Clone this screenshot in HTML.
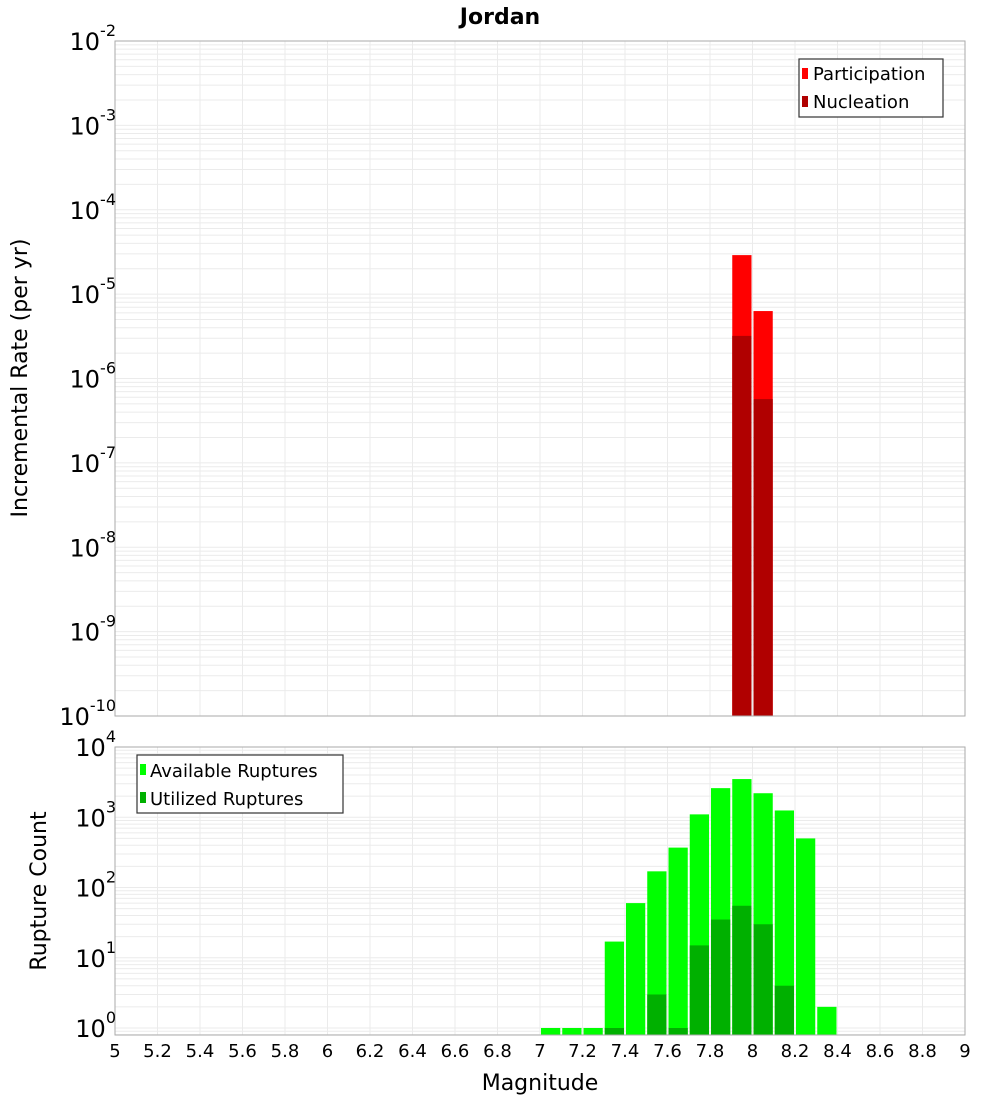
<!DOCTYPE html>
<html><head><meta charset="utf-8"><style>
html,body{margin:0;padding:0;background:#fff;}
svg{display:block;font-family:"DejaVu Sans","Liberation Sans",sans-serif;}
</style></head><body>
<svg id="chart" width="1000" height="1100" xmlns="http://www.w3.org/2000/svg">
<text x="500" y="24" text-anchor="middle" font-size="22" font-weight="bold" fill="#000">Jordan</text>
<g id="topPanel"></g><g id="botPanel"></g><g id="xax"></g>
<text transform="translate(27,378) rotate(-90)" text-anchor="middle" font-size="22" fill="#000">Incremental Rate (per yr)</text>
<text transform="translate(46,891) rotate(-90)" text-anchor="middle" font-size="22" fill="#000">Rupture Count</text>
<text x="540" y="1090" text-anchor="middle" font-size="22" fill="#000">Magnitude</text>
<g>
<rect x="799" y="59" width="144" height="58" fill="#fff" stroke="#333" stroke-width="1.2"/>
<rect x="802" y="68" width="6" height="11" fill="#ff0000"/>
<text x="813" y="80" font-size="18">Participation</text>
<rect x="802" y="96" width="6" height="11" fill="#b00000"/>
<text x="813" y="108" font-size="18">Nucleation</text>
</g>
<g>
<rect x="137" y="755" width="206" height="58" fill="#fff" stroke="#333" stroke-width="1.2"/>
<rect x="140" y="764" width="6" height="11" fill="#00ff00"/>
<text x="150" y="777" font-size="18">Available Ruptures</text>
<rect x="140" y="792" width="6" height="11" fill="#00b000"/>
<text x="150" y="805" font-size="18">Utilized Ruptures</text>
</g>
</svg>
<script>
const topMags = [7.9, 8.0];
const participation = [2.9e-5, 6.3e-6];
const nucleation = [3.2e-6, 5.7e-7];
const botMags = [7.0, 7.1, 7.2, 7.3, 7.4, 7.5, 7.6, 7.7, 7.8, 7.9, 8.0, 8.1, 8.2, 8.3];
const available = [1, 1, 1, 17, 60, 170, 370, 1100, 2600, 3500, 2200, 1250, 500, 2];
const utilized = [0, 0, 0, 1, 0, 3, 1, 15, 35, 55, 30, 4, 0, 0];
const xTicks = ["5","5.2","5.4","5.6","5.8","6","6.2","6.4","6.6","6.8","7","7.2","7.4","7.6","7.8","8","8.2","8.4","8.6","8.8","9"];
const topExps = [-2,-3,-4,-5,-6,-7,-8,-9,-10];
const botExps = [4,3,2,1,0];

const NS = "http://www.w3.org/2000/svg";
const X0 = 115, X1 = 965;
function xs(m){ return X0 + (m - 5) / 4 * (X1 - X0); }
function yTop(v){ return 41 + (-2 - Math.log10(v)) * 84.375; }
function yBot(v){ return 1028 - Math.log10(v) * 70.24; }
function mk(parent, tag, attrs){ const e = document.createElementNS(NS, tag); for (const k in attrs) e.setAttribute(k, attrs[k]); parent.appendChild(e); return e; }

function panel(g, yA, yB, yf, lo, hi, name){
  mk(g, "rect", {x:X0, y:yA, width:X1-X0, height:yB-yA, fill:"#fff"});
  for (let d = lo; d < hi; d++) for (let k = 1; k < 10; k++){
    const y = yf(k * Math.pow(10, d));
    if (y < yA || y > yB) continue;
    const l = mk(g, "line", {x1:X0, x2:X1, y1:y, y2:y, stroke:"#ebebeb", "stroke-width":1});
    
    
  }
  for (let i = 0; i < xTicks.length; i++){
    const x = xs(parseFloat(xTicks[i]));
    const l = mk(g, "line", {x1:x, x2:x, y1:yA, y2:yB, stroke:"#ebebeb", "stroke-width":1});
    
    
  }
}
const topG = document.getElementById("topPanel");
panel(topG, 41, 716, yTop, -10, -2, "top");
const botG = document.getElementById("botPanel");
panel(botG, 747, 1035, yBot, -1, 4, "bottom");

function bar(g, m, v, yf, base, color, name){
  if (v <= 0) return;
  const x = xs(m) + 1, w = xs(m + 0.1) - xs(m) - 2;
  const y = yf(v);
  const r = mk(g, "rect", {x:x, y:y, width:w, height:base - y, fill:color});
  
  
}
for (let i = 0; i < topMags.length; i++){
  bar(topG, topMags[i], participation[i], yTop, 716, "#ff0000", "participation-bar");
  bar(topG, topMags[i], nucleation[i], yTop, 716, "#b00000", "nucleation-bar");
}
for (let i = 0; i < botMags.length; i++){
  bar(botG, botMags[i], available[i], yBot, 1035, "#00ff00", "available-bar");
  bar(botG, botMags[i], utilized[i], yBot, 1035, "#00b000", "utilized-bar");
}
mk(topG, "rect", {x:X0, y:41, width:X1-X0, height:675, fill:"none", stroke:"#aaa", "stroke-width":1});
mk(botG, "rect", {x:X0, y:747, width:X1-X0, height:288, fill:"none", stroke:"#aaa", "stroke-width":1});

function ylabel(g, y, e, name){
  const t = mk(g, "text", {x:116, y:y + 9, "text-anchor":"end", "font-size":24, fill:"#000"});
  
  
  t.appendChild(document.createTextNode("10"));
  const s = mk(t, "tspan", {dy:-14, "font-size":16});
  s.appendChild(document.createTextNode(String(e)));
}
for (const e of topExps){ ylabel(topG, yTop(Math.pow(10, e)), e, "top-y-tick-label"); }
for (const e of botExps){ ylabel(botG, yBot(Math.pow(10, e)), e, "bottom-y-tick-label"); }

const xax = document.getElementById("xax");
for (let i = 0; i < xTicks.length; i++){
  const t = mk(xax, "text", {x:xs(parseFloat(xTicks[i])), y:1057, "text-anchor":"middle", "font-size":18, fill:"#000"});
  
  
  t.textContent = xTicks[i];
}
</script>
</body></html>
